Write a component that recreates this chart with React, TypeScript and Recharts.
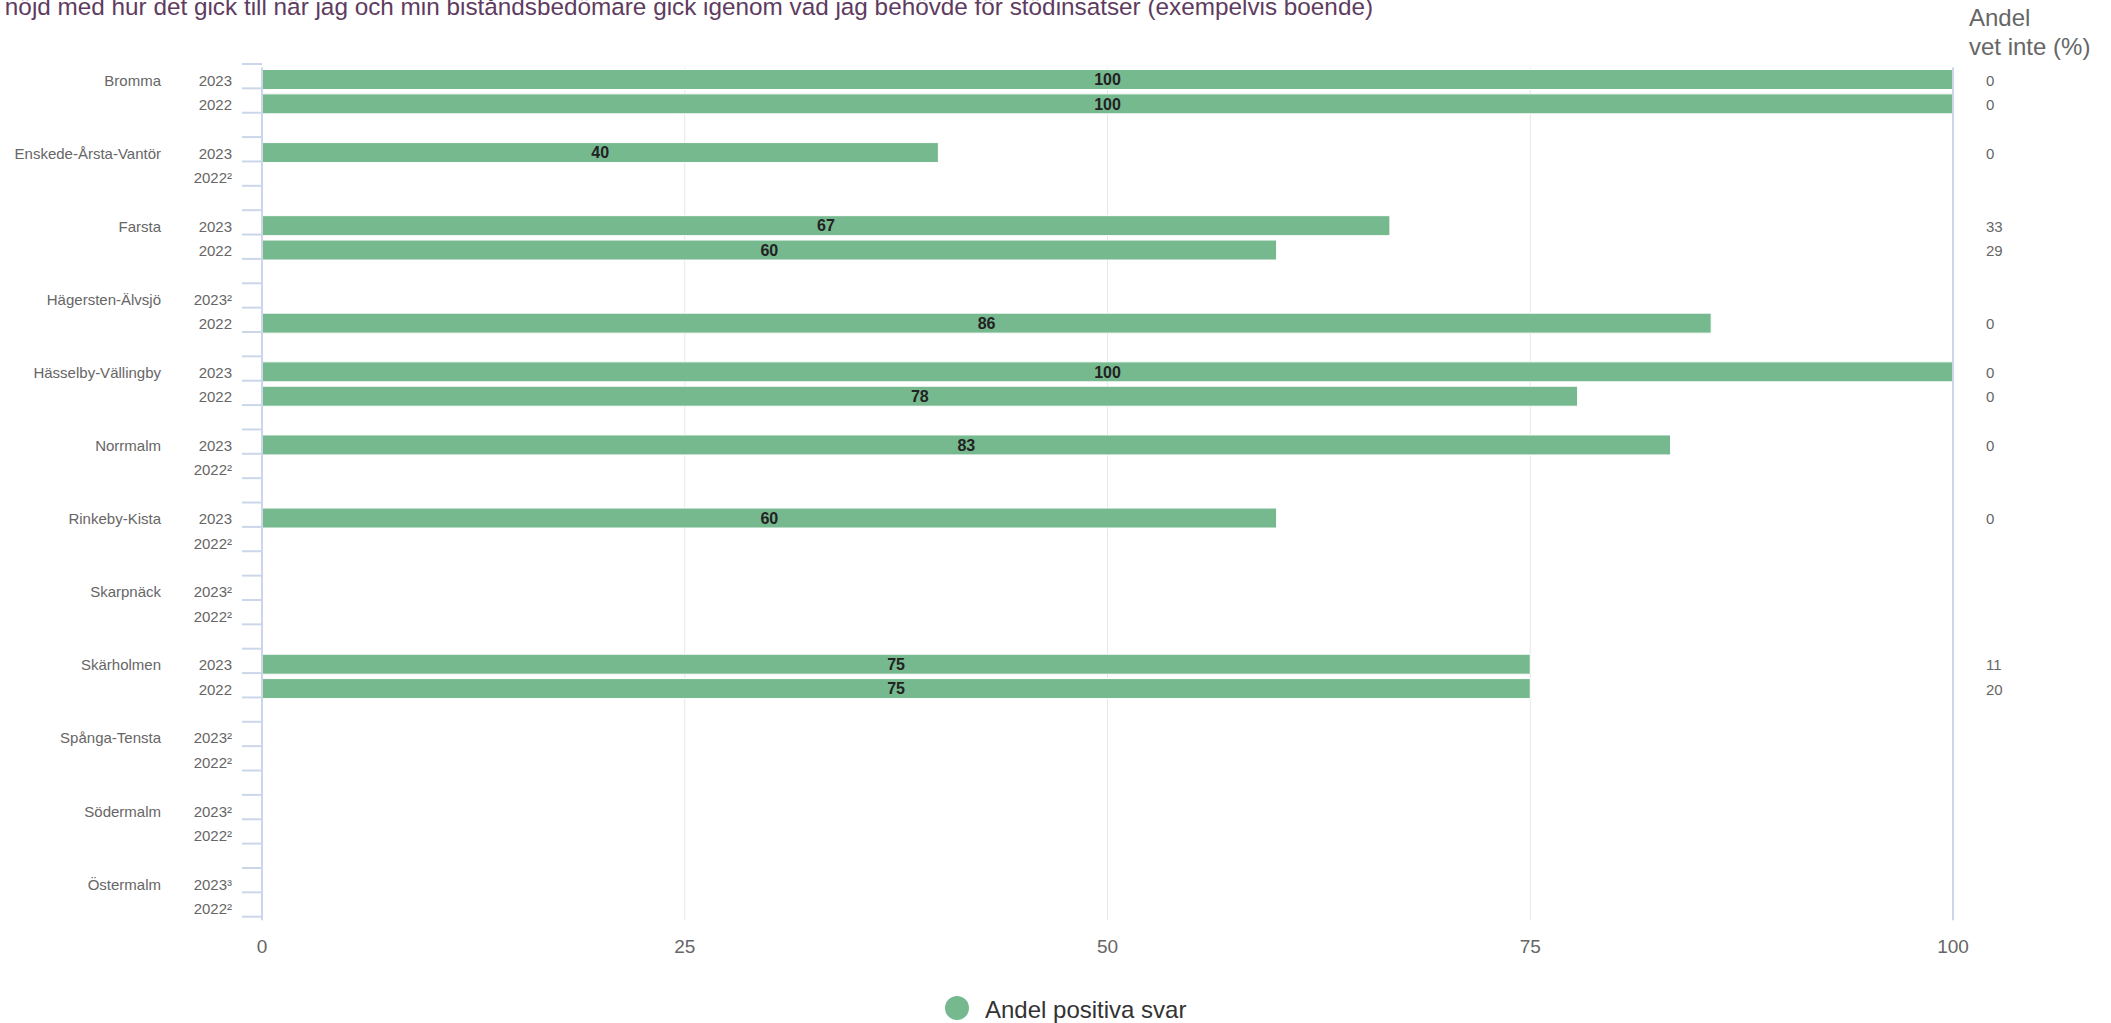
import React from 'react';
import { BarChart, Bar, XAxis, YAxis, CartesianGrid, ReferenceLine, LabelList } from 'recharts';

const districts = [
  'Bromma',
  'Enskede-Årsta-Vantör',
  'Farsta',
  'Hägersten-Älvsjö',
  'Hässelby-Vällingby',
  'Norrmalm',
  'Rinkeby-Kista',
  'Skarpnäck',
  'Skärholmen',
  'Spånga-Tensta',
  'Södermalm',
  'Östermalm',
];
const yearLabels2023 = ['2023', '2023', '2023', '2023²', '2023', '2023', '2023', '2023²', '2023', '2023²', '2023²', '2023³'];
const yearLabels2022 = ['2022', '2022²', '2022', '2022', '2022', '2022²', '2022²', '2022²', '2022', '2022²', '2022²', '2022²'];

// Andel positiva svar (%)
const positive2023 = [100, 40, 66.7, null, 100, 83.3, 60, null, 75, null, null, null];
const positive2022 = [100, null, 60, 85.7, 77.8, null, null, null, 75, null, null, null];

// Andel vet inte (%)
const dontKnow2023 = [0, 0, 33, null, 0, 0, 0, null, 11, null, null, null];
const dontKnow2022 = [0, null, 29, 0, 0, null, null, null, 20, null, null, null];

const xTicks = [0, 25, 50, 75, 100];

const titleText =
  'nöjd med hur det gick till när jag och min biståndsbedömare gick igenom vad jag behövde för stödinsatser (exempelvis boende)';
const seriesName = 'Andel positiva svar';
const barColor = '#76b98f';
const axisColor = '#ccd6eb';

interface Row {
  key: string;
  district?: string;
  year?: string;
  value: number | null;
  dk: number | null;
}

const rows: Row[] = [];
districts.forEach((d, i) => {
  rows.push({ key: `${d}-2023`, district: d, year: yearLabels2023[i], value: positive2023[i], dk: dontKnow2023[i] });
  rows.push({ key: `${d}-2022`, year: yearLabels2022[i], value: positive2022[i], dk: dontKnow2022[i] });
  if (i < districts.length - 1) rows.push({ key: `gap-${i}`, value: null, dk: null });
});

const WIDTH = 2111;
const HEIGHT = 1023;
const PLOT_LEFT = 262;
const PLOT_RIGHT = 1953;
const PLOT_TOP = 67.5;
const PLOT_BOTTOM = 920.2;
const X_AXIS_HEIGHT = 40;
const BAND = (PLOT_BOTTOM - PLOT_TOP) / rows.length;
const TICK_SHIFT = 3.5;

const labelStyle = { fontSize: 15, fill: '#666' };

const RowTick = (props: any) => {
  const { y, payload } = props;
  const idx = rows.findIndex(r => r.key === payload.value);
  const row = rows[idx];
  if (!row) return null;
  const top = y - BAND / 2 - TICK_SHIFT;
  return (
    <g>
      <line x1={PLOT_LEFT - 20} x2={PLOT_LEFT} y1={top} y2={top} stroke={axisColor} strokeWidth={2} />
      {idx === rows.length - 1 && (
        <line x1={PLOT_LEFT - 20} x2={PLOT_LEFT} y1={top + BAND} y2={top + BAND} stroke={axisColor} strokeWidth={2} />
      )}
      {row.year && (
        <text x={PLOT_LEFT - 30} y={y} dy={6} textAnchor="end" style={labelStyle}>
          {row.year}
        </text>
      )}
      {row.district && (
        <text x={PLOT_LEFT - 101} y={y} dy={6} textAnchor="end" style={labelStyle}>
          {row.district}
        </text>
      )}
      {row.dk != null && (
        <text x={PLOT_RIGHT + 33} y={y} dy={6} textAnchor="start" style={labelStyle}>
          {row.dk}
        </text>
      )}
    </g>
  );
};

export default function App() {
  return (
    <div
      style={{
        position: 'absolute',
        left: 0,
        top: 0,
        width: WIDTH,
        height: HEIGHT,
        overflow: 'hidden',
        background: '#fff',
        fontFamily: '"Liberation Sans", Arial, Helvetica, sans-serif',
      }}
    >
      <BarChart
        width={WIDTH}
        height={HEIGHT}
        data={rows}
        layout="vertical"
        margin={{ top: PLOT_TOP, right: WIDTH - PLOT_RIGHT, left: 0, bottom: HEIGHT - PLOT_BOTTOM - X_AXIS_HEIGHT }}
      >
        <CartesianGrid horizontal={false} stroke="#e6e6e6" />
        <XAxis
          type="number"
          domain={[0, 100]}
          ticks={xTicks}
          axisLine={false}
          tickLine={false}
          tickMargin={13}
          height={X_AXIS_HEIGHT}
          tick={{ fill: '#666', fontSize: 19 }}
        />
        <YAxis
          type="category"
          dataKey="key"
          width={PLOT_LEFT}
          interval={0}
          tickLine={false}
          axisLine={{ stroke: axisColor, strokeWidth: 2 }}
          tick={(p: any) => <RowTick {...p} />}
        />
        <ReferenceLine x={100} stroke={axisColor} strokeWidth={2} />
        <Bar dataKey="value" name={seriesName} fill={barColor} stroke="#fff" strokeWidth={1} barSize={20} isAnimationActive={false}>
          <LabelList
            dataKey="value"
            position="center"
            formatter={(v: any) => (v == null ? '' : Math.round(Number(v)))}
            style={{ fill: '#222', fontWeight: 'bold', fontSize: 16 }}
          />
        </Bar>
      </BarChart>
      <svg width={WIDTH} height={HEIGHT} style={{ position: 'absolute', left: 0, top: 0, pointerEvents: 'none' }}>
        <text x={1373} y={15} textAnchor="end" style={{ fontSize: 24.3, fill: '#5e3c5f' }}>
          {titleText}
        </text>
        <text x={1969} y={26} style={{ fontSize: 24, fill: '#666' }}>
          Andel
        </text>
        <text x={1969} y={55} style={{ fontSize: 24, fill: '#666' }}>
          vet inte (%)
        </text>
        <circle cx={957} cy={1008} r={12} fill={barColor} />
        <text x={985} y={1018} style={{ fontSize: 24, fill: '#333' }}>
          {seriesName}
        </text>
      </svg>
    </div>
  );
}
